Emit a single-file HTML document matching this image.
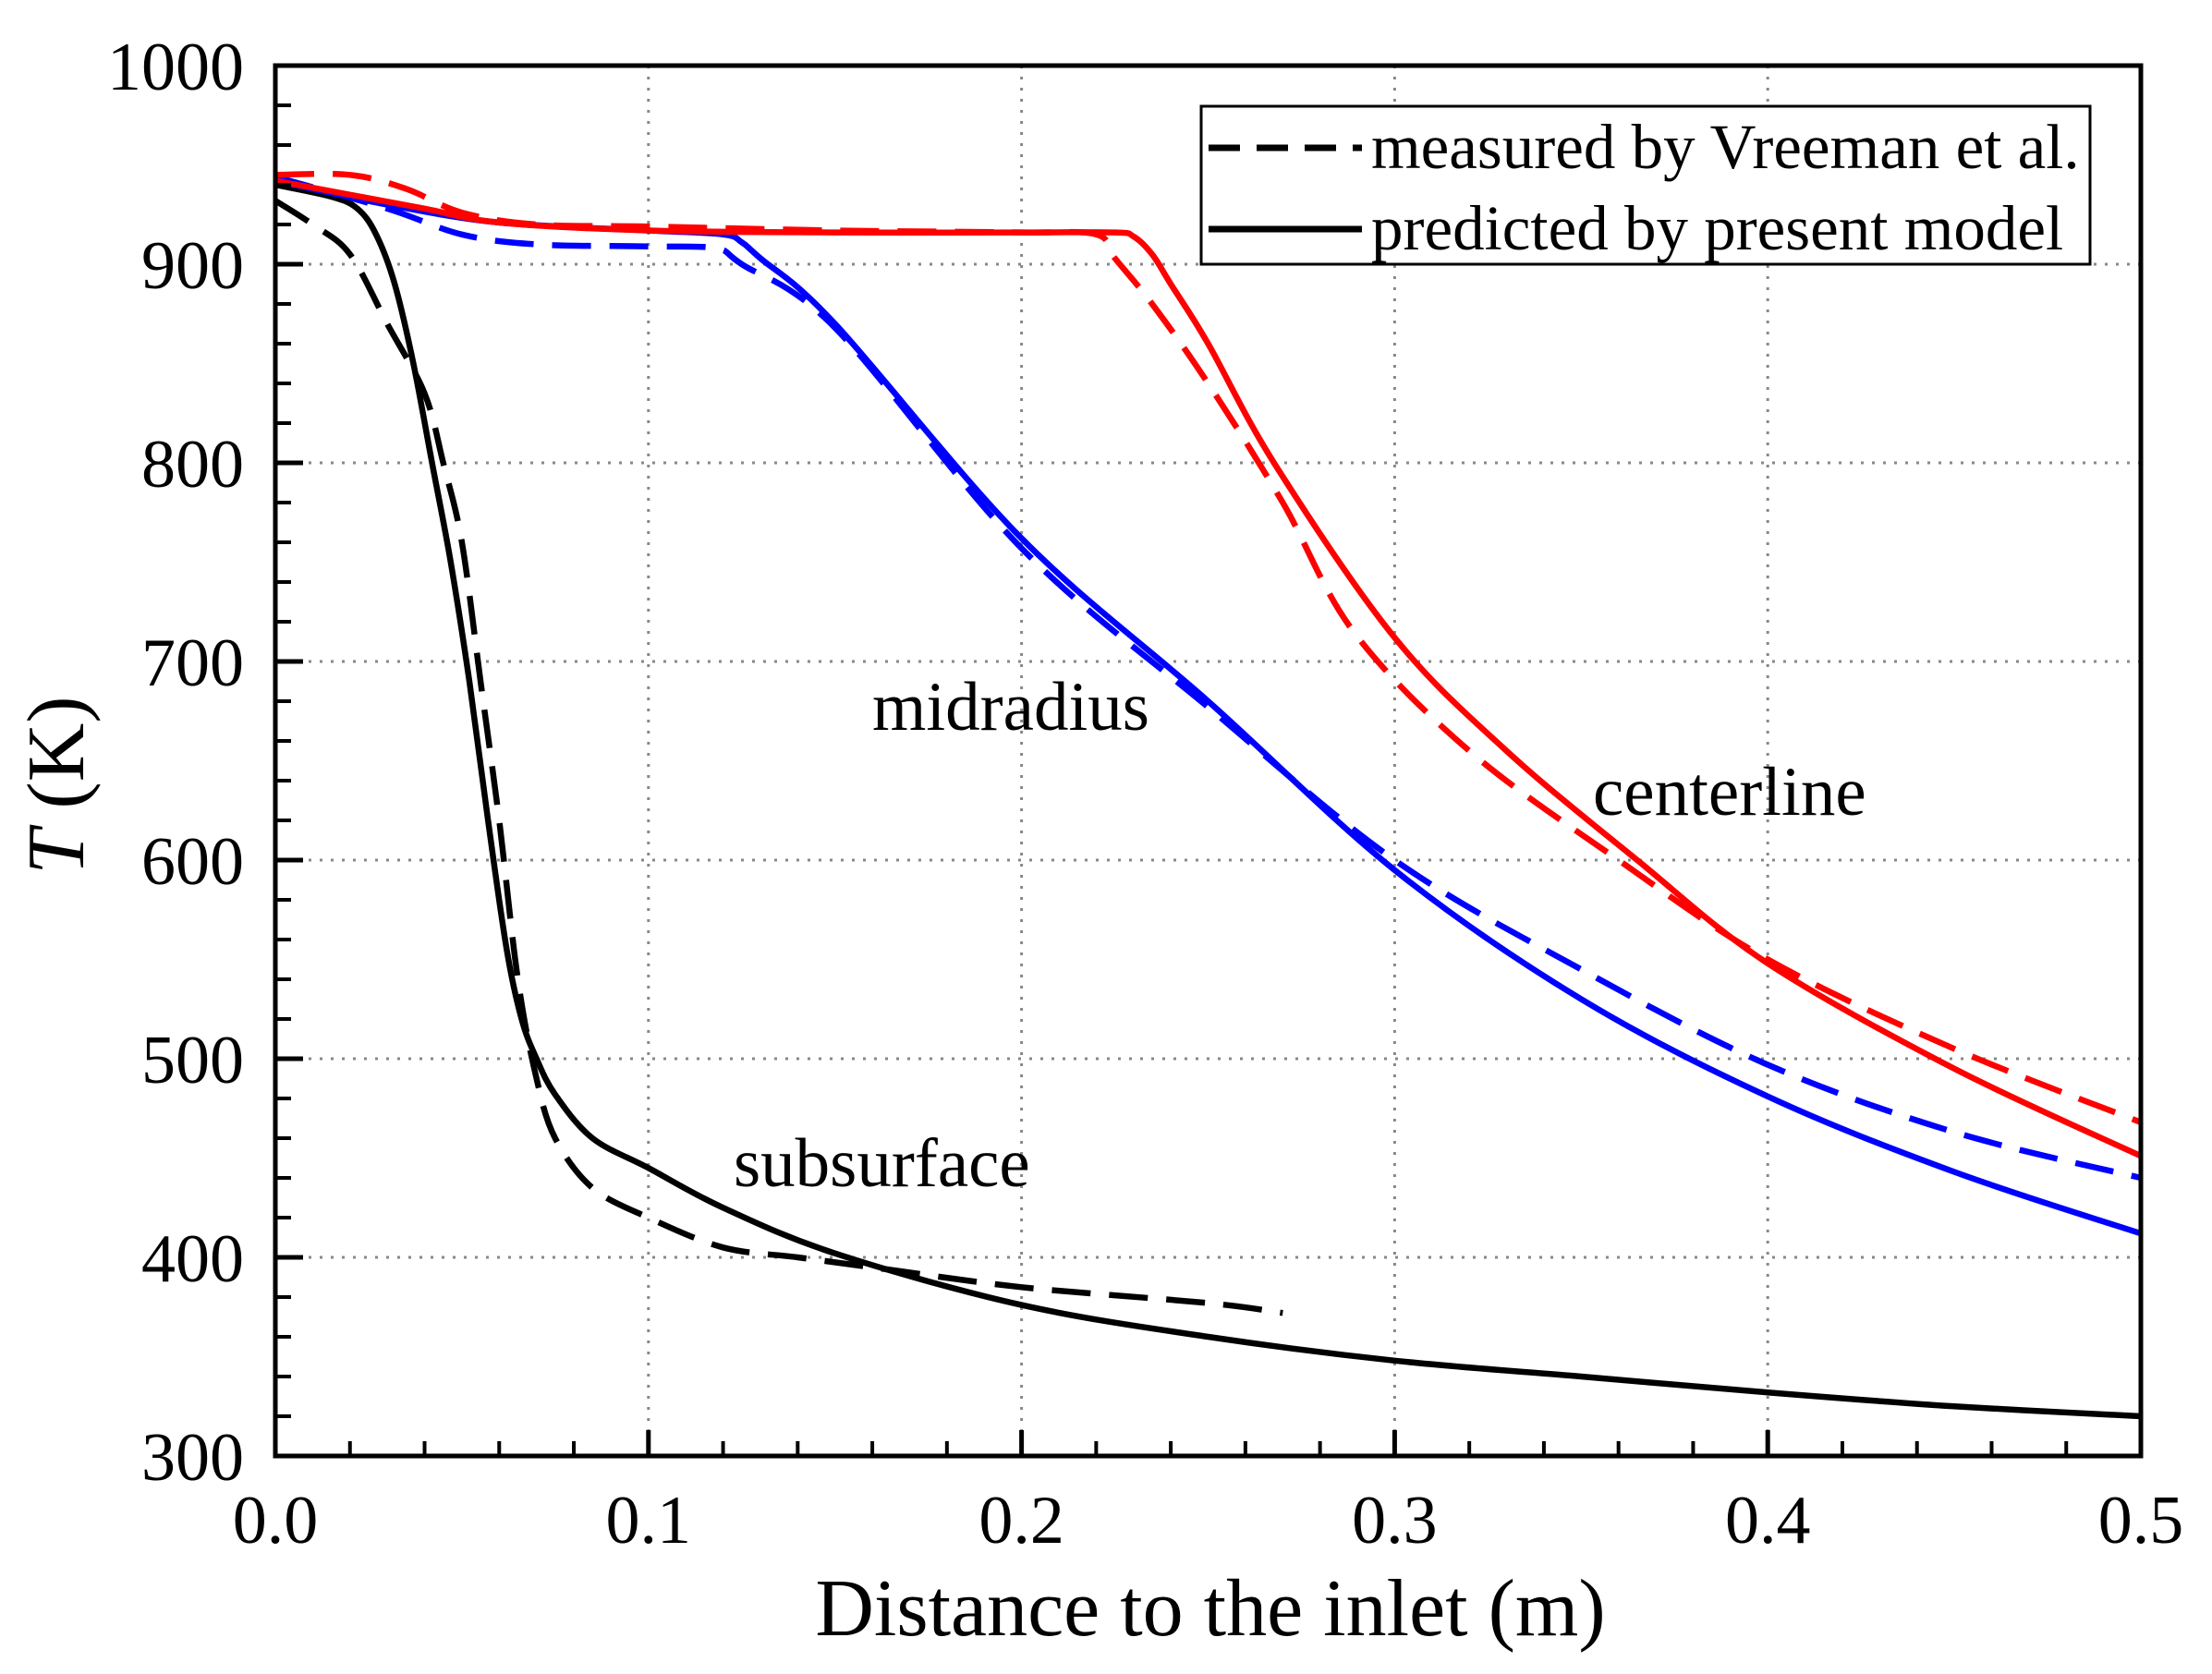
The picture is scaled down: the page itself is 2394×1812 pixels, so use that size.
<!DOCTYPE html>
<html><head><meta charset="utf-8"><style>
html,body{margin:0;padding:0;background:#fff;}
svg{display:block;font-family:"Liberation Serif",serif;}
</style></head><body>
<svg id="chart" width="2394" height="1812" viewBox="0 0 2394 1812" xmlns="http://www.w3.org/2000/svg">
<g id="grid"></g>
<g id="series"></g>
<g id="axes"></g>
<text x="1310" y="1770" font-size="88" text-anchor="middle">Distance to the inlet (m)</text>
<text transform="translate(90,850) rotate(-90)" font-size="88" text-anchor="middle"><tspan font-style="italic">T</tspan> (K)</text>
<text x="944" y="790" font-size="75">midradius</text>
<text x="1724" y="882" font-size="75">centerline</text>
<text x="794" y="1284" font-size="75">subsurface</text>
<g>
<rect x="1300" y="115" width="962" height="171" fill="#fff" stroke="#000" stroke-width="3"/>
<line x1="1308" y1="160" x2="1474" y2="160" stroke="#000" stroke-width="7" stroke-dasharray="34,18"/>
<text x="1484" y="182" font-size="69">measured by Vreeman et al.</text>
<line x1="1308" y1="248" x2="1474" y2="248" stroke="#000" stroke-width="7"/>
<text x="1484" y="270" font-size="69">predicted by present model</text>
</g>
</svg>
<script>
const xTicks = [0, 0.1, 0.2, 0.3, 0.4, 0.5];
const xTickLabels = ["0.0","0.1","0.2","0.3","0.4","0.5"];
const yTicks = [300,400,500,600,700,800,900,1000];
const yTickLabels = ["300","400","500","600","700","800","900","1000"];
const centerPredX = [0,0.02,0.04,0.06,0.1,0.15,0.2,0.225,0.23,0.235,0.24,0.25,0.268,0.3,0.33,0.365,0.4,0.45,0.5];
const centerPredT = [942,935,928,921,917,916,916,916,914,905,890,860,799,712,655,600,548,495,451];
const centerMeasX = [0,0.02,0.035,0.05,0.07,0.1,0.15,0.2,0.22,0.225,0.235,0.25,0.27,0.289,0.32,0.36,0.4,0.45,0.5];
const centerMeasT = [945,945,938,926,920,919,917,916,915,903,880,840,780,715,655,600,550,505,468];
const midPredX = [0,0.03,0.06,0.1,0.12,0.125,0.13,0.15,0.2,0.25,0.3,0.35,0.4,0.45,0.5];
const midPredT = [942,930,921,917,915,911,903,870,762,680,595,530,481,443,412];
const midMeasX = [0,0.03,0.05,0.07,0.1,0.118,0.125,0.15,0.2,0.25,0.3,0.35,0.4,0.45,0.5];
const midMeasT = [944,928,915,910,909,908,900,868,757,677,600,545,497,463,440];
const subPredX = [0,0.015,0.022,0.027,0.032,0.037,0.042,0.047,0.052,0.057,0.062,0.066,0.07,0.075,0.085,0.1,0.12,0.15,0.2,0.25,0.3,0.35,0.4,0.45,0.5];
const subPredT = [940,934,928,915,890,850,800,750,690,620,555,520,500,482,460,445,425,402,376,360,348,340,332,325,320];
const subMeasX = [0,0.01,0.02,0.03,0.04,0.045,0.05,0.055,0.06,0.065,0.07,0.075,0.085,0.1,0.12,0.14,0.16,0.2,0.25,0.27];
const subMeasT = [932,920,905,870,835,800,760,690,620,540,490,460,435,420,405,400,395,385,377,372];

const L=298,R=2317,T=71,B=1576;
const sx=v=>L+(v-0)/(0.5)*(R-L);
const sy=v=>B-(v-300)/700*(B-T);
const NS="http://www.w3.org/2000/svg";
function mk(tag,attrs,parent){const e=document.createElementNS(NS,tag);for(const k in attrs)e.setAttribute(k,attrs[k]);parent.appendChild(e);return e;}
const grid=document.getElementById('grid'),axes=document.getElementById('axes'),series=document.getElementById('series');
xTicks.forEach((v,i)=>{
  if(i>0&&i<xTicks.length-1){const g=mk('line',{x1:sx(v),x2:sx(v),y1:T,y2:B,stroke:'#888','stroke-width':3,'stroke-dasharray':'3,9'},grid);
  
  }
  const t=mk('line',{x1:sx(v),x2:sx(v),y1:B,y2:B-28,stroke:'#000','stroke-width':5},axes);
  
  
  const lb=mk('text',{x:sx(v),y:1670,'font-size':74,'text-anchor':'middle'},axes);lb.textContent=xTickLabels[i];
  
  
});
for(let v=0.02;v<0.5;v+=0.02){if(Math.abs(v*10-Math.round(v*10))<1e-6)continue;
  const t=mk('line',{x1:sx(v),x2:sx(v),y1:B,y2:B-16,stroke:'#000','stroke-width':4},axes);
  
  }
yTicks.forEach((v,i)=>{
  if(i>0&&i<yTicks.length-1){const g=mk('line',{x1:L,x2:R,y1:sy(v),y2:sy(v),stroke:'#888','stroke-width':3,'stroke-dasharray':'3,9'},grid);
  
  }
  const t=mk('line',{x1:L,x2:L+30,y1:sy(v),y2:sy(v),stroke:'#000','stroke-width':5},axes);
  
  
  const lb=mk('text',{x:264,y:sy(v)+26,'font-size':74,'text-anchor':'end'},axes);lb.textContent=yTickLabels[i];
  
  
});
for(let v=320;v<1000;v+=20){if(v%100===0)continue;
  const t=mk('line',{x1:L,x2:L+17,y1:sy(v),y2:sy(v),stroke:'#000','stroke-width':4},axes);
  
  }
const frame=mk('rect',{x:L,y:T,width:R-L,height:B-T,fill:'none',stroke:'#000','stroke-width':5},axes);


function smoothPath(px,py){
  let d='M'+px[0].toFixed(1)+','+py[0].toFixed(1);
  for(let i=0;i<px.length-1;i++){
    const x0=px[Math.max(i-1,0)],y0=py[Math.max(i-1,0)],x1=px[i],y1=py[i],x2=px[i+1],y2=py[i+1],x3=px[Math.min(i+2,px.length-1)],y3=py[Math.min(i+2,px.length-1)];
    const c1x=x1+(x2-x0)/6,c1y=y1+(y2-y0)/6,c2x=x2-(x3-x1)/6,c2y=y2-(y3-y1)/6;
    d+=' C'+c1x.toFixed(1)+','+c1y.toFixed(1)+' '+c2x.toFixed(1)+','+c2y.toFixed(1)+' '+x2.toFixed(1)+','+y2.toFixed(1);
  }
  return d;
}
function draw(xs,ts,color,dashed,name){
  const d=smoothPath(xs.map(sx),ts.map(sy));
  const p=mk('path',{d:d,fill:'none',stroke:color,'stroke-width':6.5,'stroke-linejoin':'round'},series);
  if(dashed)p.setAttribute('stroke-dasharray','42,20');
  
  
}
draw(subMeasX,subMeasT,'#000',true,'subsurface-measured-line');
draw(subPredX,subPredT,'#000',false,'subsurface-predicted-line');
draw(midMeasX,midMeasT,'#0000ff',true,'midradius-measured-line');
draw(midPredX,midPredT,'#0000ff',false,'midradius-predicted-line');
draw(centerMeasX,centerMeasT,'#ff0000',true,'centerline-measured-line');
draw(centerPredX,centerPredT,'#ff0000',false,'centerline-predicted-line');
</script>
</body></html>
